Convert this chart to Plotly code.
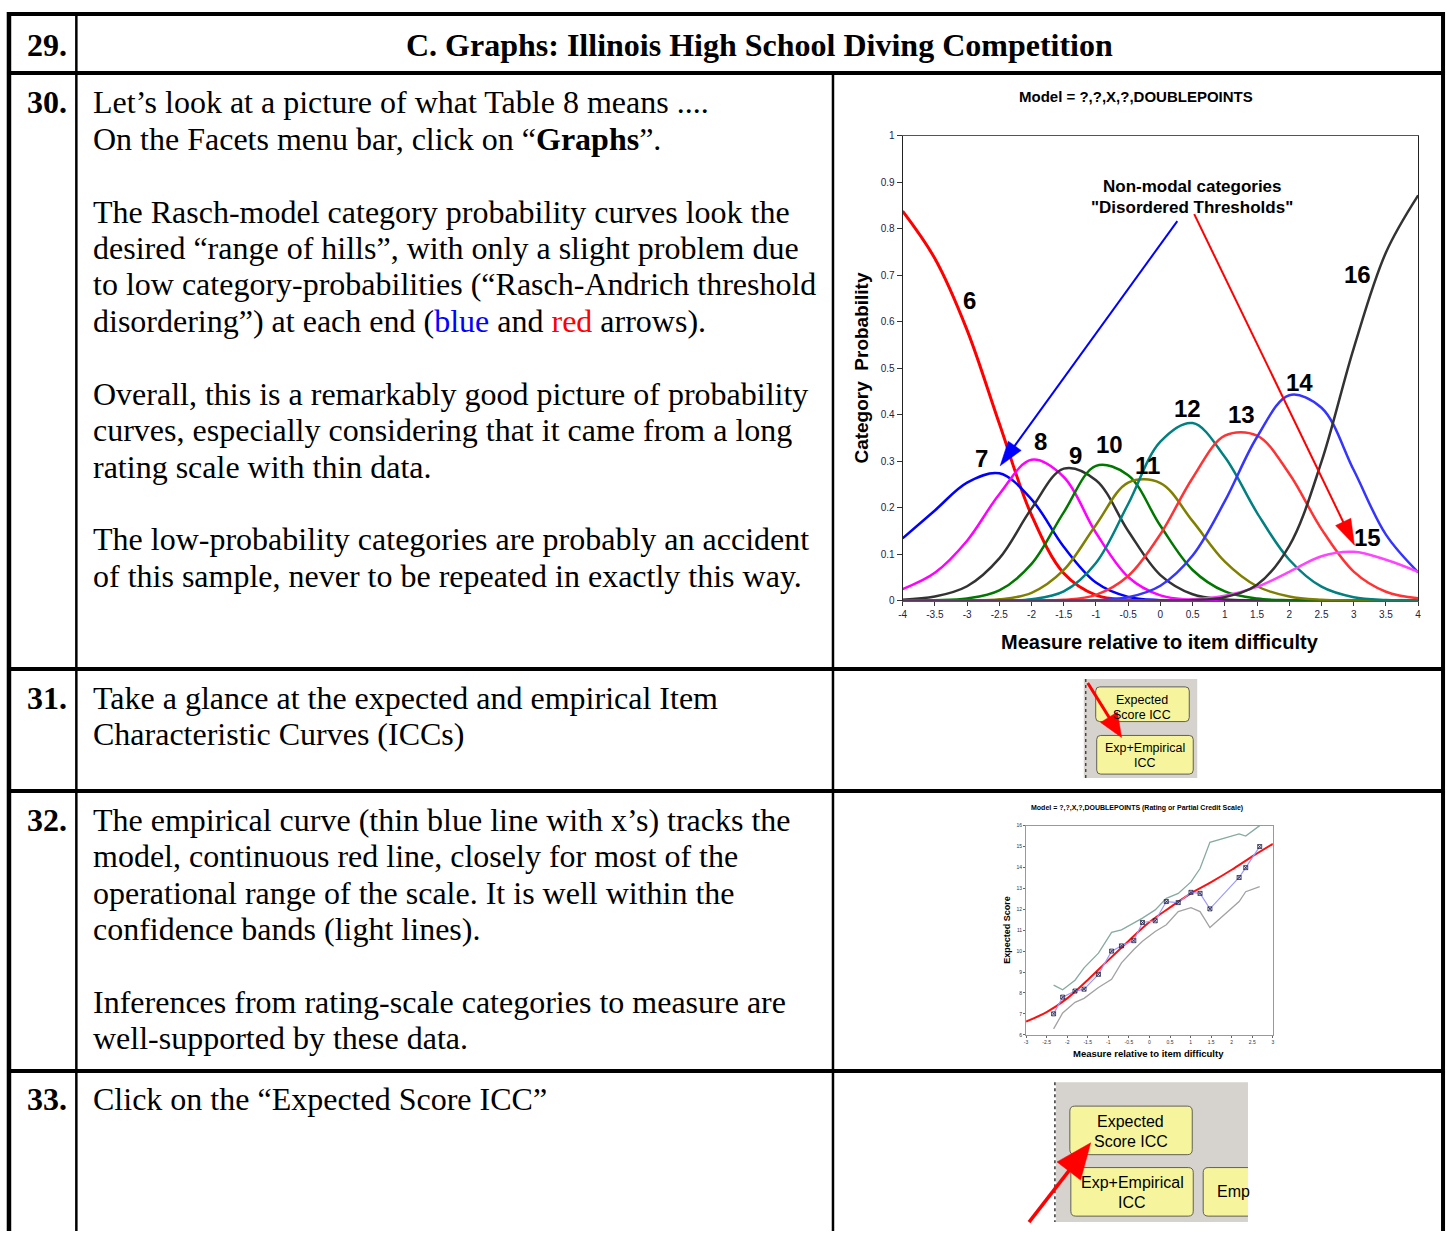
import math
import plotly.graph_objects as go

W, H = 1452, 1237

# ---------------- data: category probability curves ----------------
measure = [-4, -3.5, -3, -2.5, -2, -1.5, -1, -0.5, 0, 0.5, 1, 1.5, 2, 2.5, 3, 3.5, 4]
categories = ["6", "7", "8", "9", "10", "11", "12", "13", "14", "15", "16"]
prob_6 = [0.838, 0.736, 0.582, 0.381, 0.184, 0.059, 0.012, 0.0016, 0.0001, 0, 0, 0, 0, 0, 0, 0, 0]
prob_7 = [0.134, 0.194, 0.254, 0.274, 0.218, 0.116, 0.039, 0.0082, 0.0011, 0.0001, 0, 0, 0, 0, 0, 0, 0]
prob_8 = [0.025, 0.060, 0.129, 0.229, 0.303, 0.266, 0.146, 0.051, 0.0113, 0.0017, 0.0002, 0, 0, 0, 0, 0, 0]
prob_9 = [0.0022, 0.0088, 0.031, 0.091, 0.198, 0.284, 0.259, 0.150, 0.055, 0.0137, 0.0025, 0.0003, 0, 0, 0, 0, 0]
prob_10 = [0.0001, 0.0008, 0.0046, 0.022, 0.079, 0.190, 0.290, 0.270, 0.161, 0.066, 0.0198, 0.0044, 0.0008, 0, 0, 0, 0]
prob_11 = [0, 0, 0.0004, 0.0028, 0.0167, 0.066, 0.163, 0.254, 0.253, 0.171, 0.084, 0.031, 0.0088, 0.0018, 0.0003, 0, 0]
prob_12 = [0, 0, 0, 0.0003, 0.0031, 0.0198, 0.081, 0.208, 0.342, 0.382, 0.309, 0.189, 0.088, 0.030, 0.0074, 0.0014, 0.0002]
prob_13 = [0, 0, 0, 0, 0.0002, 0.0018, 0.0125, 0.053, 0.143, 0.264, 0.355, 0.355, 0.273, 0.154, 0.0625, 0.0192, 0.005]
prob_14 = [0, 0, 0, 0, 0, 0.0001, 0.001, 0.0072, 0.032, 0.097, 0.214, 0.352, 0.442, 0.415, 0.281, 0.142, 0.061]
prob_15 = [0, 0, 0, 0, 0, 0, 0, 0.0001, 0.0006, 0.003, 0.0108, 0.0297, 0.062, 0.0956, 0.105, 0.088, 0.062]
prob_16 = [0, 0, 0, 0, 0, 0, 0, 0, 0.0002, 0.0013, 0.0076, 0.0342, 0.118, 0.299, 0.543, 0.749, 0.872]
probabilities = [prob_6, prob_7, prob_8, prob_9, prob_10, prob_11, prob_12,
                 prob_13, prob_14, prob_15, prob_16]

prob_xticks = [-4, -3.5, -3, -2.5, -2, -1.5, -1, -0.5, 0, 0.5, 1, 1.5, 2, 2.5, 3, 3.5, 4]
prob_xticklabels = ["-4", "-3.5", "-3", "-2.5", "-2", "-1.5", "-1", "-0.5", "0",
                    "0.5", "1", "1.5", "2", "2.5", "3", "3.5", "4"]
prob_yticks = [0, 0.1, 0.2, 0.3, 0.4, 0.5, 0.6, 0.7, 0.8, 0.9, 1]
prob_yticklabels = ["0", "0.1", "0.2", "0.3", "0.4", "0.5", "0.6", "0.7", "0.8", "0.9", "1"]

# ---------------- data: expected / empirical ICC ----------------
icc_model_x = [-3, -2.5, -2, -1.5, -1, -0.5, 0, 0.5, 1, 1.5, 2, 2.5, 3]
icc_model_score = [6.63, 7.08, 7.74, 8.62, 9.57, 10.5, 11.39, 12.09, 12.75, 13.3, 13.89, 14.53, 15.13]
emp_x = [-2.33, -2.11, -1.81, -1.59, -1.24, -0.92, -0.68, -0.38, -0.17, 0.14,
         0.41, 0.70, 1.01, 1.23, 1.47, 2.18, 2.34, 2.68]
emp_score = [7.0, 7.8, 8.09, 8.18, 8.89, 10.0, 10.25, 10.5, 11.37, 11.45,
             12.37, 12.32, 12.81, 12.76, 12.02, 13.52, 13.99, 15.0]
band_upper = [8.37, 8.15, 8.61, 9.2, 9.9, 10.9, 11.02, 11.34, 11.58, 11.97,
              12.52, 12.76, 13.31, 13.95, 15.2, 15.6, 15.5, 16.0]
band_lower = [6.28, 7.04, 7.55, 7.74, 8.26, 8.65, 9.44, 10.08, 10.47, 10.94,
              11.26, 11.89, 12.08, 11.89, 11.13, 12.37, 12.84, 13.08]
icc_xticks = [-3, -2.5, -2, -1.5, -1, -0.5, 0, 0.5, 1, 1.5, 2, 2.5, 3]
icc_xticklabels = ["-3", "-2.5", "-2", "-1.5", "-1", "-0.5", "0", "0.5", "1", "1.5", "2", "2.5", "3"]
icc_yticks = [6, 7, 8, 9, 10, 11, 12, 13, 14, 15, 16]
icc_yticklabels = ["6", "7", "8", "9", "10", "11", "12", "13", "14", "15", "16"]

# ---------------- styles ----------------
curve_colors = ["#ff0000", "#0000ff", "#ff00ff", "#333333", "#007800", "#808000",
                "#008080", "#ff3333", "#3535ff", "#ff44ff", "#333333"]
curve_widths = [3, 2.5, 2.5, 2.5, 2.5, 2.5, 2.5, 2.5, 2.5, 2.5, 2.5]
# label positions (data coordinates of main chart)
label_pos = [(-2.965, 0.646), (-2.78, 0.305), (-1.853, 0.343), (-1.313, 0.313),
             (-0.788, 0.335), (-0.201, 0.290), (0.417, 0.414), (1.266, 0.401),
             (2.162, 0.469), (3.212, 0.136), (3.058, 0.701)]

SERIF = "Liberation Serif, Times New Roman, serif"
SANS = "Liberation Sans, Arial, sans-serif"


def px(x):
    return x / W


def py(y):
    return 1 - y / H


annotations = []
shapes = []


def text_line(x, baseline, s, size=32, bold=False, xanchor="left", family=SERIF,
              color="black", asc=0.3375):
    if bold:
        s = "<b>" + s + "</b>"
    annotations.append(dict(xref="paper", yref="paper", x=px(x), y=py(baseline - asc * size),
                            text=s, showarrow=False, xanchor=xanchor, yanchor="middle",
                            font=dict(family=family, size=size, color=color)))


def ctext(x, yc, s, size, bold=True, family=SANS, color="black", angle=0, xanchor="center"):
    if bold:
        s = "<b>" + s + "</b>"
    annotations.append(dict(xref="paper", yref="paper", x=px(x), y=py(yc), text=s,
                            showarrow=False, xanchor=xanchor, yanchor="middle", textangle=angle,
                            font=dict(family=family, size=size, color=color)))


def line(x0, y0, x1, y1, w, color="black", dash="solid"):
    shapes.append(dict(type="line", xref="paper", yref="paper", x0=px(x0), y0=py(y0),
                       x1=px(x1), y1=py(y1), line=dict(color=color, width=w, dash=dash)))


def rect(x0, y0, x1, y1, fill, lw=0, lc="black"):
    shapes.append(dict(type="rect", xref="paper", yref="paper", x0=px(x0), y0=py(y0),
                       x1=px(x1), y1=py(y1), fillcolor=fill, line=dict(width=lw, color=lc)))


def rrect(x0, y0, x1, y1, r, fill, lc="#5f5f55", lw=1):
    def P(a, b):
        return "%.6f,%.6f" % (px(a), py(b))
    path = ("M" + P(x0 + r, y0) + " L" + P(x1 - r, y0) + " Q" + P(x1, y0) + " " + P(x1, y0 + r) +
            " L" + P(x1, y1 - r) + " Q" + P(x1, y1) + " " + P(x1 - r, y1) +
            " L" + P(x0 + r, y1) + " Q" + P(x0, y1) + " " + P(x0, y1 - r) +
            " L" + P(x0, y0 + r) + " Q" + P(x0, y0) + " " + P(x0 + r, y0) + " Z")
    shapes.append(dict(type="path", xref="paper", yref="paper", path=path,
                       fillcolor=fill, line=dict(color=lc, width=lw)))


def arrow(tail, tip, color, lw, hl, hw):
    (x0, y0), (x1, y1) = tail, tip
    dx, dy = x1 - x0, y1 - y0
    L = math.hypot(dx, dy)
    ux, uy = dx / L, dy / L
    bx, by = x1 - hl * ux, y1 - hl * uy
    nx, ny = -uy, ux
    line(x0, y0, bx + ux * 2, by + uy * 2, lw, color)
    pts = [(x1, y1), (bx + nx * hw / 2, by + ny * hw / 2), (bx - nx * hw / 2, by - ny * hw / 2)]
    path = "M" + " L".join("%.6f,%.6f" % (px(a), py(b)) for a, b in pts) + " Z"
    shapes.append(dict(type="path", xref="paper", yref="paper", path=path,
                       fillcolor=color, line=dict(color=color, width=0.5)))


fig = go.Figure()

# ---------------- category probability curves ----------------
for cat, vals, col, w in zip(categories, probabilities, curve_colors, curve_widths):
    fig.add_trace(go.Scatter(x=measure, y=vals, mode="lines", name=cat,
                             line=dict(color=col, width=w, shape="spline", smoothing=1.0),
                             xaxis="x", yaxis="y", hoverinfo="skip"))

for cat, (lx, ly) in zip(categories, label_pos):
    annotations.append(dict(xref="x", yref="y", x=lx, y=ly, text="<b>%s</b>" % cat,
                            showarrow=False, xanchor="center", yanchor="middle",
                            font=dict(family=SANS, size=24, color="black")))

# ---------------- ICC chart ----------------
fig.add_trace(go.Scatter(x=emp_x, y=band_upper, mode="lines", line=dict(color="#86aaa2", width=1.3),
                         xaxis="x2", yaxis="y2", hoverinfo="skip"))
fig.add_trace(go.Scatter(x=emp_x, y=band_lower, mode="lines", line=dict(color="#a2a2a2", width=1.3),
                         xaxis="x2", yaxis="y2", hoverinfo="skip"))
fig.add_trace(go.Scatter(x=icc_model_x, y=icc_model_score, mode="lines",
                         line=dict(color="#ff1010", width=2, shape="spline"),
                         xaxis="x2", yaxis="y2", hoverinfo="skip"))
fig.add_trace(go.Scatter(x=emp_x, y=emp_score, mode="lines+markers",
                         line=dict(color="#9a9aff", width=1.2),
                         marker=dict(symbol="square-x-open", size=4, color="#222244",
                                     line=dict(width=0.8, color="#222244")),
                         xaxis="x2", yaxis="y2", hoverinfo="skip"))

# ---------------- table grid ----------------
line(3, 9, 1448, 9, 4)
line(3, 68.5, 1448, 68.5, 4)
line(3, 670, 1448, 670, 4)
line(3, 793, 1448, 793, 4)
line(3, 1075.5, 1448, 1075.5, 4)
line(5, 7, 5, 1237, 4.5)
line(1446, 7, 1446, 1237, 4)
line(72.7, 9, 72.7, 1237, 2.5)
line(833, 68.5, 833, 1237, 2.5)

# ---------------- table text ----------------
text_line(21, 51, "29.", bold=True)
text_line(759.5, 51, "C. Graphs: Illinois High School Diving Competition", bold=True, xanchor="center")

text_line(21, 109, "30.", bold=True)
text_line(21, 710, "31.", bold=True)
text_line(21, 833, "32.", bold=True)
text_line(21, 1115, "33.", bold=True)

step = 36.75
row30 = [
    (0, "Let’s look at a picture of what Table 8 means ...."),
    (1, "On the Facets menu bar, click on “<b>Graphs</b>”."),
    (3, "The Rasch-model category probability curves look the"),
    (4, "desired “range of hills”, with only a slight problem due"),
    (5, "to low category-probabilities (“Rasch-Andrich threshold"),
    (6, "disordering”) at each end (<span style='color:#0000ff'>blue</span> and "
        "<span style='color:#ff0000'>red</span> arrows)."),
    (8, "Overall, this is a remarkably good picture of probability"),
    (9, "curves, especially considering that it came from a long"),
    (10, "rating scale with thin data."),
    (12, "The low-probability categories are probably an accident"),
    (13, "of this sample, never to be repeated in exactly this way."),
]
for i, s in row30:
    text_line(87.5, 109 + i * step, s)

row31 = [(0, "Take a glance at the expected and empirical Item"),
         (1, "Characteristic Curves (ICCs)")]
for i, s in row31:
    text_line(87.5, 710 + i * step, s)

row32 = [
    (0, "The empirical curve (thin blue line with x’s) tracks the"),
    (1, "model, continuous red line, closely for most of the"),
    (2, "operational range of the scale. It is well within the"),
    (3, "confidence bands (light lines)."),
    (5, "Inferences from rating-scale categories to measure are"),
    (6, "well-supported by these data."),
]
for i, s in row32:
    text_line(87.5, 833 + i * step, s)

text_line(87.5, 1115, "Click on the “Expected Score ICC”")

# ---------------- main chart texts ----------------
ctext(1137, 92, "Model = ?,?,X,?,DOUBLEPOINTS", 15)
ctext(862, 366, "Category  Probability", 19, angle=-90)
ctext(1162, 643, "Measure relative to item difficulty", 20)
ctext(1194, 183, "Non-modal categories", 17)
ctext(1194, 204, "\"Disordered Thresholds\"", 17)

arrow((1179, 218), (1001, 465), "#0000ff", 2, 25, 16)
arrow((1196, 211), (1357, 545), "#ff0000", 2, 26, 17)

# ---------------- ICC chart texts ----------------
ctext(1138, 810, "Model = ?,?,X,?,DOUBLEPOINTS (Rating or Partial Credit Scale)", 7)
ctext(1008, 933, "Expected Score", 9, angle=-90)
ctext(1150, 1058, "Measure relative to item difficulty", 9.5)

# ---------------- button screenshot (row 31) ----------------
rect(1085, 680, 1199, 780, "#d6d3ce")
line(1087, 680, 1087, 780, 1.3, "#333333", "dot")
rrect(1097, 688, 1191, 723, 4, "#f6f59e")
rrect(1098, 737, 1195, 776, 4, "#f6f59e")
ctext(1144, 701.5, "Expected", 12.5, bold=False)
ctext(1144, 716.5, "Score ICC", 12.5, bold=False)
ctext(1146.5, 749.5, "Exp+Empirical", 12.5, bold=False)
ctext(1146.5, 764.5, "ICC", 12.5, bold=False)
arrow((1089, 684), (1123, 739), "#ff0000", 3, 24, 20)

# ---------------- button screenshot (row 33) ----------------
rect(1057, 1087, 1250, 1228, "#d6d3ce")
line(1056, 1087, 1056, 1228, 1.5, "#333333", "dot")
rrect(1071, 1111, 1194, 1160, 5, "#f6f59e")
rrect(1072, 1173, 1195, 1222, 5, "#f6f59e")
rrect(1205, 1173, 1262, 1222, 5, "#f6f59e")
rect(1250, 1165, 1290, 1230, "white")
ctext(1132, 1127, "Expected", 16, bold=False)
ctext(1132, 1147, "Score ICC", 16, bold=False)
ctext(1133.5, 1188, "Exp+Empirical", 16, bold=False)
ctext(1133.5, 1208, "ICC", 16, bold=False)
ctext(1217, 1197, "Emp", 16, bold=False, xanchor="left")
arrow((1030, 1228), (1092, 1148), "#ff0000", 3.5, 36, 30)

tickfont_main = dict(family=SANS, size=10, color="#222244")
tickfont_icc = dict(family=SANS, size=5, color="#333333")

fig.update_layout(
    width=W, height=H, margin=dict(l=0, r=0, t=0, b=0, pad=0),
    paper_bgcolor="white", plot_bgcolor="white", showlegend=False, hovermode=False,
    xaxis=dict(domain=[903 / W, 1421 / W], range=[-4, 4], anchor="y",
               tickmode="array", tickvals=prob_xticks, ticktext=prob_xticklabels,
               ticks="outside", ticklen=4, tickcolor="#333333", tickfont=tickfont_main,
               showline=True, linecolor="#555555", linewidth=1.2, mirror=True,
               showgrid=False, zeroline=False, fixedrange=True),
    yaxis=dict(domain=[1 - 601 / H, 1 - 132 / H], range=[0, 1], anchor="x",
               tickmode="array", tickvals=prob_yticks, ticktext=prob_yticklabels,
               ticks="outside", ticklen=5, tickcolor="#333333", tickfont=tickfont_main,
               showline=True, linecolor="#222222", linewidth=1.2, mirror=True,
               showgrid=False, zeroline=False, fixedrange=True),
    xaxis2=dict(domain=[1027 / W, 1275 / W], range=[-3, 3], anchor="y2",
                tickmode="array", tickvals=icc_xticks, ticktext=icc_xticklabels,
                ticks="outside", ticklen=2, tickcolor="#666666", tickfont=tickfont_icc,
                showline=True, linecolor="#999999", linewidth=0.8, mirror=True,
                showgrid=False, zeroline=False, fixedrange=True),
    yaxis2=dict(domain=[1 - 1039 / H, 1 - 828 / H], range=[6, 16], anchor="x2",
                tickmode="array", tickvals=icc_yticks, ticktext=icc_yticklabels,
                ticks="outside", ticklen=2, tickcolor="#666666", tickfont=tickfont_icc,
                showline=True, linecolor="#999999", linewidth=0.8, mirror=True,
                showgrid=False, zeroline=False, fixedrange=True),
    annotations=annotations,
    shapes=shapes,
)

fig.write_html("out.html", config={"displayModeBar": False},
               post_script="document.body.style.margin='0';document.body.style.overflow='hidden';")
